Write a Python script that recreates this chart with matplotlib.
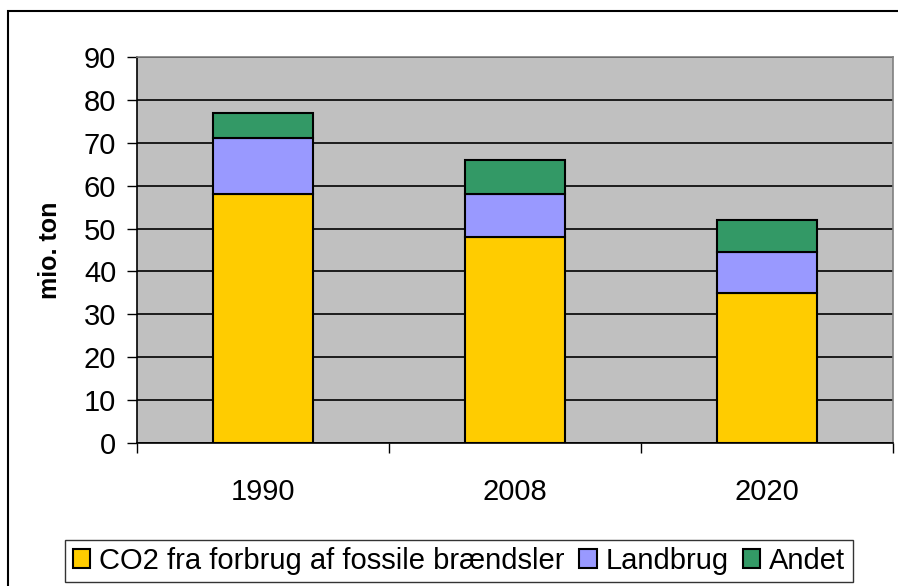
import matplotlib
matplotlib.use("Agg")
import matplotlib.pyplot as plt
from matplotlib.patches import Rectangle
import numpy as np

years = ["1990", "2008", "2020"]
fossil = [58, 48, 35]
landbrug = [13, 10, 9.5]
andet = [6, 8, 7.5]
series_names = ["CO2 fra forbrug af fossile brændsler", "Landbrug", "Andet"]
colors = ["#FFCC00", "#9999FF", "#339966"]

plt.rcParams["font.family"] = ["Liberation Sans", "DejaVu Sans"]

fig = plt.figure(figsize=(8.98, 5.86), dpi=100)
W, H = 898, 586

# outer chart frame (right and bottom edges fall outside the picture)
fig.add_artist(Rectangle((8 / W, -10 / H), 900 / W, (586 - 11 + 10) / H,
                         transform=fig.transFigure, fill=False,
                         edgecolor="black", linewidth=1.5))

ax = fig.add_axes([137 / W, 1 - 443 / H, (893 - 137) / W, (443 - 57) / H])
ax.set_facecolor("#C0C0C0")

x = np.arange(len(years))
width = 0.4
bottom = np.zeros(len(years))
for vals, name, col in zip([fossil, landbrug, andet], series_names, colors):
    ax.bar(x, vals, width, bottom=bottom, color=col, edgecolor="black",
           linewidth=1.5, label=name, zorder=3)
    bottom += np.array(vals)

ax.set_xlim(-0.5, 2.5)
ax.set_ylim(0, 90)
ax.set_yticks(range(0, 91, 10))
ax.yaxis.grid(True, color="black", linewidth=1.2, zorder=1)
ax.set_axisbelow(True)

ax.set_xticks([-0.5, 0.5, 1.5, 2.5], minor=False)
ax.set_xticklabels([])
ax.set_xticks(x, minor=True)
ax.set_xticklabels(years, minor=True)
ax.tick_params(axis="x", which="major", length=7, width=1, direction="out")
ax.tick_params(axis="x", which="minor", length=0, pad=25, labelsize=21)
ax.tick_params(axis="y", length=7, width=1, direction="out", labelsize=21, pad=8)

for s in ["left", "bottom"]:
    ax.spines[s].set_color("black")
    ax.spines[s].set_linewidth(1.2)
for s in ["top", "right"]:
    ax.spines[s].set_color("#808080")
    ax.spines[s].set_linewidth(1.2)

ax.set_ylabel("mio. ton", fontsize=18, fontweight="bold", labelpad=16)

leg = fig.legend(loc="center", bbox_to_anchor=(459 / W, 1 - 561 / H),
                 ncol=3, fontsize=21, frameon=True, fancybox=False,
                 handlelength=0.6, handleheight=0.6, handletextpad=0.3,
                 columnspacing=0.5, borderpad=0.25, borderaxespad=0)
leg.get_frame().set_edgecolor("black")
leg.get_frame().set_linewidth(1.0)

fig.savefig("out.png", dpi=100)
